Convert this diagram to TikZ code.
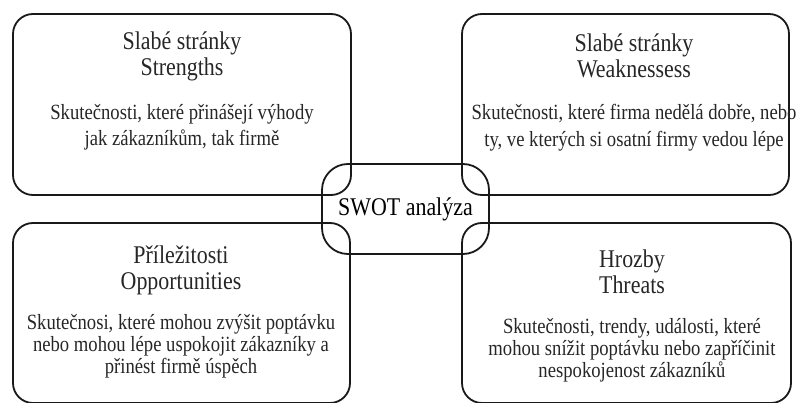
\documentclass[tikz,border=0pt]{standalone}
\usepackage{fontspec}
\setmainfont{Liberation Serif}[FakeStretch=0.86]
\begin{document}
\begin{tikzpicture}[x=1pt,y=-1pt,
  quad/.style={draw=black!90,line width=1.8pt,rounded corners=20pt,inner sep=0pt},
  hub/.style={draw=black!90,line width=1.8pt,rounded corners=26pt,inner sep=0pt,
    minimum width=167pt,minimum height=90pt,
    font=\fontsize{25.5}{26}\selectfont},
  head/.style={align=center,inner sep=0pt,text=black!85,
    font=\fontsize{25.5}{26}\selectfont},
  bodytop/.style={align=center,inner sep=0pt,text=black!85,
    font=\fontsize{21.7}{26.5}\selectfont},
  bodybot/.style={align=center,inner sep=0pt,text=black!85,
    font=\fontsize{21.7}{22}\selectfont},
  ]
\useasboundingbox (0,0) rectangle (798,403);
\clip (0,0) rectangle (798,403);

% four quadrant frames
\node[quad,minimum width=338pt,minimum height=181pt] (str) at (182,104.5) {};
\node[quad,minimum width=327pt,minimum height=181pt] (wea) at (625.5,104.5) {};
\node[quad,minimum width=337pt,minimum height=180pt] (opp) at (181.5,313) {};
\node[quad,minimum width=329pt,minimum height=180pt] (thr) at (626.5,313) {};

% central label
\node[hub] (swot) at (405.5,209) {SWOT analýza};

% Strengths
\node[head] (strT) at (182,56) {Slabé stránky\\Strengths};
\node[bodytop] (strB) at (182,127.5) {Skutečnosti, které přinášejí výhody\\jak zákazníkům, tak firmě};

% Weaknesses
\node[head] (weaT) at (634,56) {Slabé stránky\\Weaknessess};
\node[bodytop] (weaB) at (634,127.5) {Skutečnosti, které firma nedělá dobře, nebo\\ty, ve kterých si osatní firmy vedou lépe};

% Opportunities
\node[head] (oppT) at (181,270) {Příležitosti\\Opportunities};
\node[bodybot] (oppB) at (181,346) {Skutečnosi, které mohou zvýšit poptávku\\nebo mohou lépe uspokojit zákazníky a\\přinést firmě úspěch};

% Threats
\node[head] (thrT) at (632,272) {Hrozby\\Threats};
\node[bodybot] (thrB) at (632,350) {Skutečnosti, trendy, události, které\\mohou snížit poptávku nebo zapříčinit\\nespokojenost zákazníků};
\end{tikzpicture}
\end{document}
